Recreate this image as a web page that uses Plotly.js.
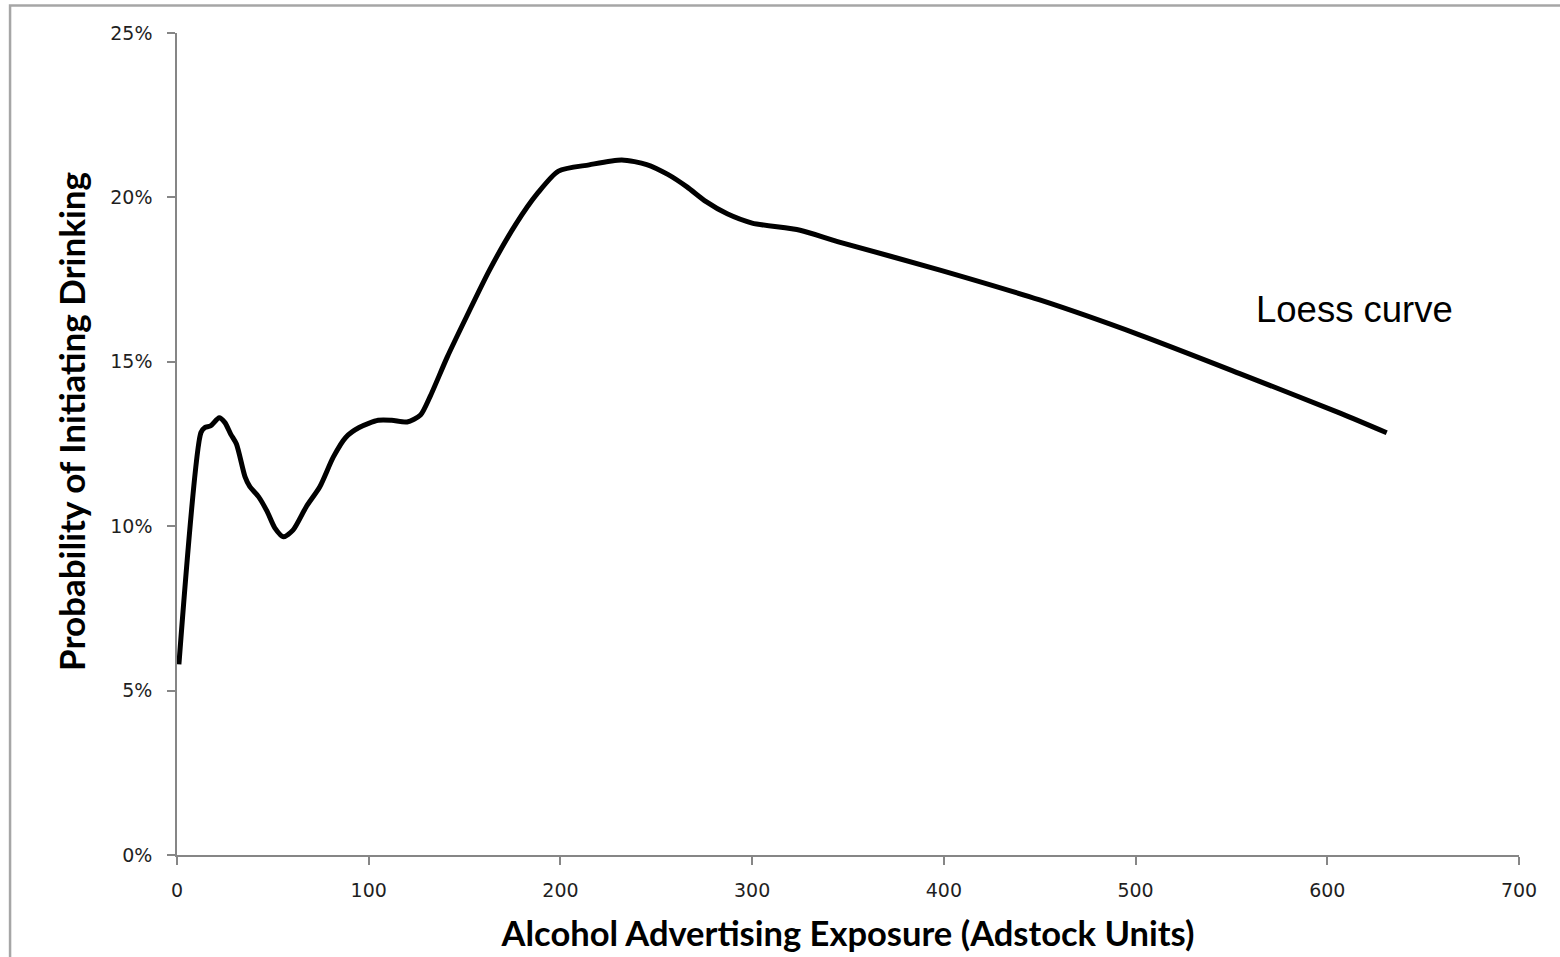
<!DOCTYPE html>
<html>
<head>
<meta charset="utf-8">
<script src="https://cdn.plot.ly/plotly-3.0.1.min.js"></script>
<style>
  html, body { margin: 0; padding: 0; background: #ffffff; }
  #chart { width: 1560px; height: 957px; }
</style>
</head>
<body>
<div id="chart"></div>
<script>
// Loess curve
const exposure = [1, 12.5, 14.5, 17.5, 22, 25, 28, 31, 35.5, 38, 42.5, 47, 51, 55.5, 60.5, 67.5, 74.5, 81.5, 88, 95,
  105, 112, 120, 127, 132, 141, 151, 163, 177, 188, 199, 215, 232, 245, 256, 266, 276, 287, 300, 325,
  345, 398, 450, 502, 554, 607, 631];
const probability = [5.8, 12.85, 13.0, 13.05, 13.3, 13.15, 12.8, 12.5, 11.5, 11.2, 10.9, 10.45, 9.95, 9.68, 9.88, 10.6, 11.2, 12.1, 12.7, 13.0,
  13.22, 13.22, 13.17, 13.38, 13.94, 15.15, 16.37, 17.79, 19.21, 20.12, 20.8, 20.99, 21.14, 21.0, 20.7, 20.32, 19.87, 19.5, 19.22, 19.0,
  18.65, 17.79, 16.88, 15.82, 14.65, 13.43, 12.84];

const xTicks = [0, 100, 200, 300, 400, 500, 600, 700];
const yTicks = [0, 5, 10, 15, 20, 25];
const yTickLabels = ['0%', '5%', '10%', '15%', '20%', '25%'];

const xTitle = 'Alcohol Advertising Exposure (Adstock Units)';
const yTitle = 'Probability of Initiating Drinking';
const curveLabel = 'Loess curve';

const trace = {
  x: exposure,
  y: probability,
  type: 'scatter',
  mode: 'lines',
  line: { color: '#000000', width: 5, shape: 'spline', smoothing: 0.7 },
  hoverinfo: 'x+y',
  showlegend: false
};

const tickFont = { family: 'DejaVu Sans, sans-serif', size: 19, color: '#1f1f1f' };
const axisColor = '#868686';
const titleFont = { family: 'Lato, sans-serif', color: '#000000', weight: 'bold' };

const layout = {
  width: 1560,
  height: 957,
  paper_bgcolor: '#ffffff',
  plot_bgcolor: '#ffffff',
  margin: { l: 177, r: 41, t: 33, b: 102 },
  showlegend: false,
  xaxis: {
    range: [0, 700],
    tickvals: xTicks,
    ticktext: xTicks.map(String),
    showgrid: false,
    zeroline: false,
    showline: true,
    linecolor: axisColor,
    linewidth: 1.5,
    ticks: 'outside',
    ticklen: 8,
    tickwidth: 1.5,
    tickcolor: axisColor,
    tickfont: tickFont,
    ticklabelstandoff: 9,
    title: { text: xTitle, font: Object.assign({ size: 34.5 }, titleFont), standoff: 22 }
  },
  yaxis: {
    range: [0, 25],
    tickvals: yTicks,
    ticktext: yTickLabels,
    showgrid: false,
    zeroline: false,
    showline: true,
    linecolor: axisColor,
    linewidth: 1.5,
    ticks: 'outside',
    ticklen: 8,
    tickwidth: 1.5,
    tickcolor: axisColor,
    tickfont: tickFont,
    ticklabelstandoff: 11
  },
  annotations: [{
    x: 562, y: 16.6, xref: 'x', yref: 'y',
    text: curveLabel,
    showarrow: false,
    xanchor: 'left', yanchor: 'middle',
    font: { family: 'Liberation Sans, Arial, sans-serif', size: 36.5, color: '#000000' }
  }, {
    x: -0.079, y: 0.528, xref: 'paper', yref: 'paper',
    text: yTitle,
    textangle: -90,
    showarrow: false,
    xanchor: 'center', yanchor: 'middle',
    font: Object.assign({ size: 35 }, titleFont)
  }],
  shapes: [{
    type: 'rect', xref: 'paper', yref: 'paper',
    x0: -0.1244, x1: 1.04, y0: -0.14, y1: 1.0335,
    line: { color: '#a6a6a6', width: 2.5 },
    fillcolor: 'rgba(0,0,0,0)',
    layer: 'below'
  }]
};

Plotly.newPlot('chart', [trace], layout, { displayModeBar: false });
</script>
</body>
</html>
